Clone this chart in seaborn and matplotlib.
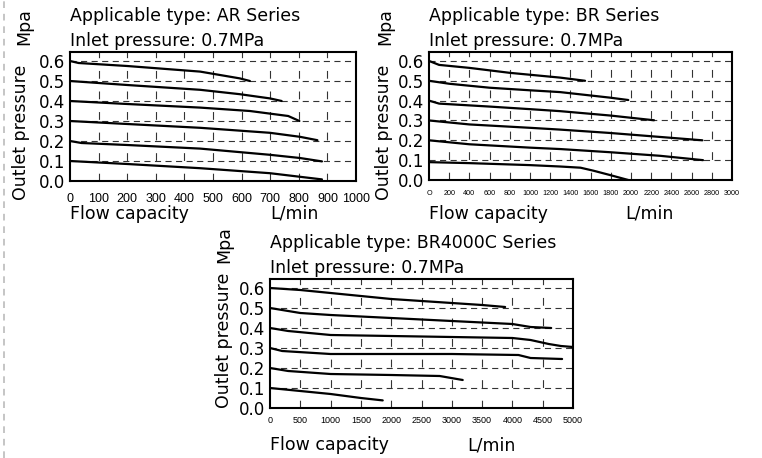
import numpy as np
import pandas as pd
import seaborn as sns
import matplotlib.pyplot as plt
from matplotlib.lines import Line2D

sns.set_style("white")
plt.rcParams['font.family'] = ['DejaVu Sans']
plt.rcParams['text.color'] = 'black'
plt.rcParams['xtick.color'] = 'black'
plt.rcParams['ytick.color'] = 'black'

# starting outlet pressure of each curve (MPa)
set_pressures = [0.6, 0.5, 0.4, 0.3, 0.2, 0.1]

# AR Series (flow L/min, outlet pressure MPa)
ar_flow = [
    [0, 30, 200, 455, 594, 629],
    [0, 200, 455, 594, 699, 740],
    [0, 200, 455, 629, 763, 802],
    [0, 200, 455, 699, 804, 865],
    [0, 40, 200, 455, 699, 804, 881],
    [0, 200, 455, 699, 881],
]
ar_press = [
    [0.60, 0.59, 0.575, 0.547, 0.513, 0.50],
    [0.50, 0.48, 0.456, 0.434, 0.413, 0.40],
    [0.40, 0.385, 0.367, 0.35, 0.325, 0.30],
    [0.30, 0.285, 0.266, 0.241, 0.221, 0.204],
    [0.20, 0.19, 0.18, 0.162, 0.131, 0.115, 0.098],
    [0.10, 0.085, 0.064, 0.039, 0.008],
]

# BR Series
br_flow = [
    [0, 100, 400, 800, 1297, 1545],
    [0, 200, 600, 1000, 1297, 1792, 1973],
    [0, 100, 600, 1000, 1297, 1792, 2228],
    [0, 400, 1000, 1297, 1792, 2287, 2707],
    [0, 400, 1000, 1297, 1792, 2287, 2713],
    [0, 400, 1000, 1297, 1500, 1627, 1792, 1973],
]
br_press = [
    [0.60, 0.58, 0.565, 0.54, 0.516, 0.50],
    [0.50, 0.485, 0.465, 0.452, 0.443, 0.415, 0.403],
    [0.40, 0.385, 0.37, 0.357, 0.347, 0.325, 0.301],
    [0.30, 0.28, 0.263, 0.254, 0.237, 0.217, 0.20],
    [0.20, 0.18, 0.163, 0.156, 0.14, 0.122, 0.10],
    [0.09, 0.085, 0.075, 0.068, 0.062, 0.047, 0.025, 0.0],
]

# BR4000C Series
brc_flow = [
    [0, 500, 1000, 1500, 2000, 2500, 3000, 3500, 3880],
    [0, 500, 1000, 2000, 3000, 4000, 4300, 4640],
    [0, 300, 1000, 2000, 3000, 4000, 4300, 4600, 4800, 5000],
    [0, 200, 1000, 2000, 3000, 4100, 4300, 4820],
    [0, 300, 1000, 2000, 2800, 3180],
    [0, 500, 1000, 1500, 1860],
]
brc_press = [
    [0.60, 0.59, 0.575, 0.56, 0.545, 0.535, 0.525, 0.515, 0.505],
    [0.50, 0.475, 0.465, 0.45, 0.435, 0.42, 0.405, 0.40],
    [0.40, 0.385, 0.365, 0.36, 0.355, 0.35, 0.34, 0.32, 0.31, 0.305],
    [0.30, 0.285, 0.27, 0.27, 0.27, 0.265, 0.25, 0.245],
    [0.20, 0.185, 0.17, 0.165, 0.16, 0.14],
    [0.10, 0.085, 0.07, 0.05, 0.038],
]

y_ticks = [0.0, 0.1, 0.2, 0.3, 0.4, 0.5, 0.6]
ar_xticks = list(range(0, 1001, 100))
br_xticks = list(range(0, 3001, 200))
brc_xticks = list(range(0, 5001, 500))
ar_xlabels = [str(v) for v in ar_xticks]
br_xlabels = ['O'] + [str(v) for v in br_xticks[1:]]
brc_xlabels = [str(v) for v in brc_xticks]

titles = ['Applicable type: AR Series', 'Applicable type: BR Series',
          'Applicable type: BR4000C Series']
W, H = 762, 458


def to_df(flows, presses):
    rows = []
    for i, (fx, py) in enumerate(zip(flows, presses)):
        for a, b in zip(fx, py):
            rows.append({'flow': a, 'pressure': b, 'curve': set_pressures[i]})
    return pd.DataFrame(rows)


def px_axes(fig, left, top, right, bottom):
    return fig.add_axes([left / W, 1 - bottom / H, (right - left) / W, (bottom - top) / H])


def draw_panel(ax, df, xmax, xticks, xlabels, xsize, xpad):
    ax.set_xlim(0, xmax)
    ax.set_ylim(0, 0.645)
    for y in y_ticks[1:]:
        ax.axhline(y, color='#333333', lw=0.8, ls=(0, (5.5, 4)), zorder=1)
    for x in xticks[1:-1]:
        ax.axvline(x, color='#333333', lw=0.8, ls=(0, (7, 11.5)), zorder=1)
    sns.lineplot(data=df, x='flow', y='pressure', units='curve', estimator=None,
                 color='black', lw=1.6, ax=ax, zorder=3)
    ax.set_xticks(xticks)
    # no condensed face installed, so a small plain one
    ax.set_xticklabels(xlabels, family='Liberation Sans', fontsize=xsize)
    ax.set_yticks(y_ticks)
    ax.set_yticklabels(['%.1f' % v for v in y_ticks], fontsize=12)
    ax.tick_params(length=0)
    ax.tick_params(axis='y', pad=3.5)
    ax.tick_params(axis='x', pad=xpad)
    ax.set_xlabel('')
    ax.set_ylabel('')
    for s in ax.spines.values():
        s.set_color('black')
        s.set_linewidth(1.5)


fig = plt.figure(figsize=(W / 100, H / 100), dpi=100)

ax1 = px_axes(fig, 70, 52, 356, 181)
draw_panel(ax1, to_df(ar_flow, ar_press), 1000, ar_xticks, ar_xlabels, 9, 9)
ax2 = px_axes(fig, 429, 52, 732, 180)
draw_panel(ax2, to_df(br_flow, br_press), 3000, br_xticks, br_xlabels, 5.2, 7)
ax3 = px_axes(fig, 270, 279, 573, 408)
draw_panel(ax3, to_df(brc_flow, brc_press), 5000, brc_xticks, brc_xlabels, 6.5, 6)


def ftext(x, y, s, **kw):
    fig.text(x / W, 1 - y / H, s, fontsize=12.5, va='center', **kw)


# panel texts: (axes left, title y, mpa x, mpa y, outlet x, outlet y, flow y, lmin x)
for left, ty, mx, my, ox, oy, fy, lx, title in [
        (70, 16, 24, 27, 21, 132, 214, 270, titles[0]),
        (429, 16, 385, 27, 384, 132, 214, 625, titles[1]),
        (270, 243, 224, 245, 224, 340, 445, 467, titles[2])]:
    ftext(left, ty, title, ha='left')
    ftext(left, ty + 25, 'Inlet pressure: 0.7MPa', ha='left')
    ftext(mx, my, 'Mpa', ha='center', rotation=90)
    ftext(ox, oy, 'Outlet pressure', ha='center', rotation=90)
    ftext(left, fy, 'Flow capacity', ha='left')
    ftext(lx, fy, 'L/min', ha='left')

# dashed page border on the left
fig.add_artist(Line2D([3.5 / W, 3.5 / W], [0, 1], color='#bbbbbb', lw=1.2,
                      ls=(0, (4, 3.5)), transform=fig.transFigure))

fig.savefig('out.png', dpi=100)
